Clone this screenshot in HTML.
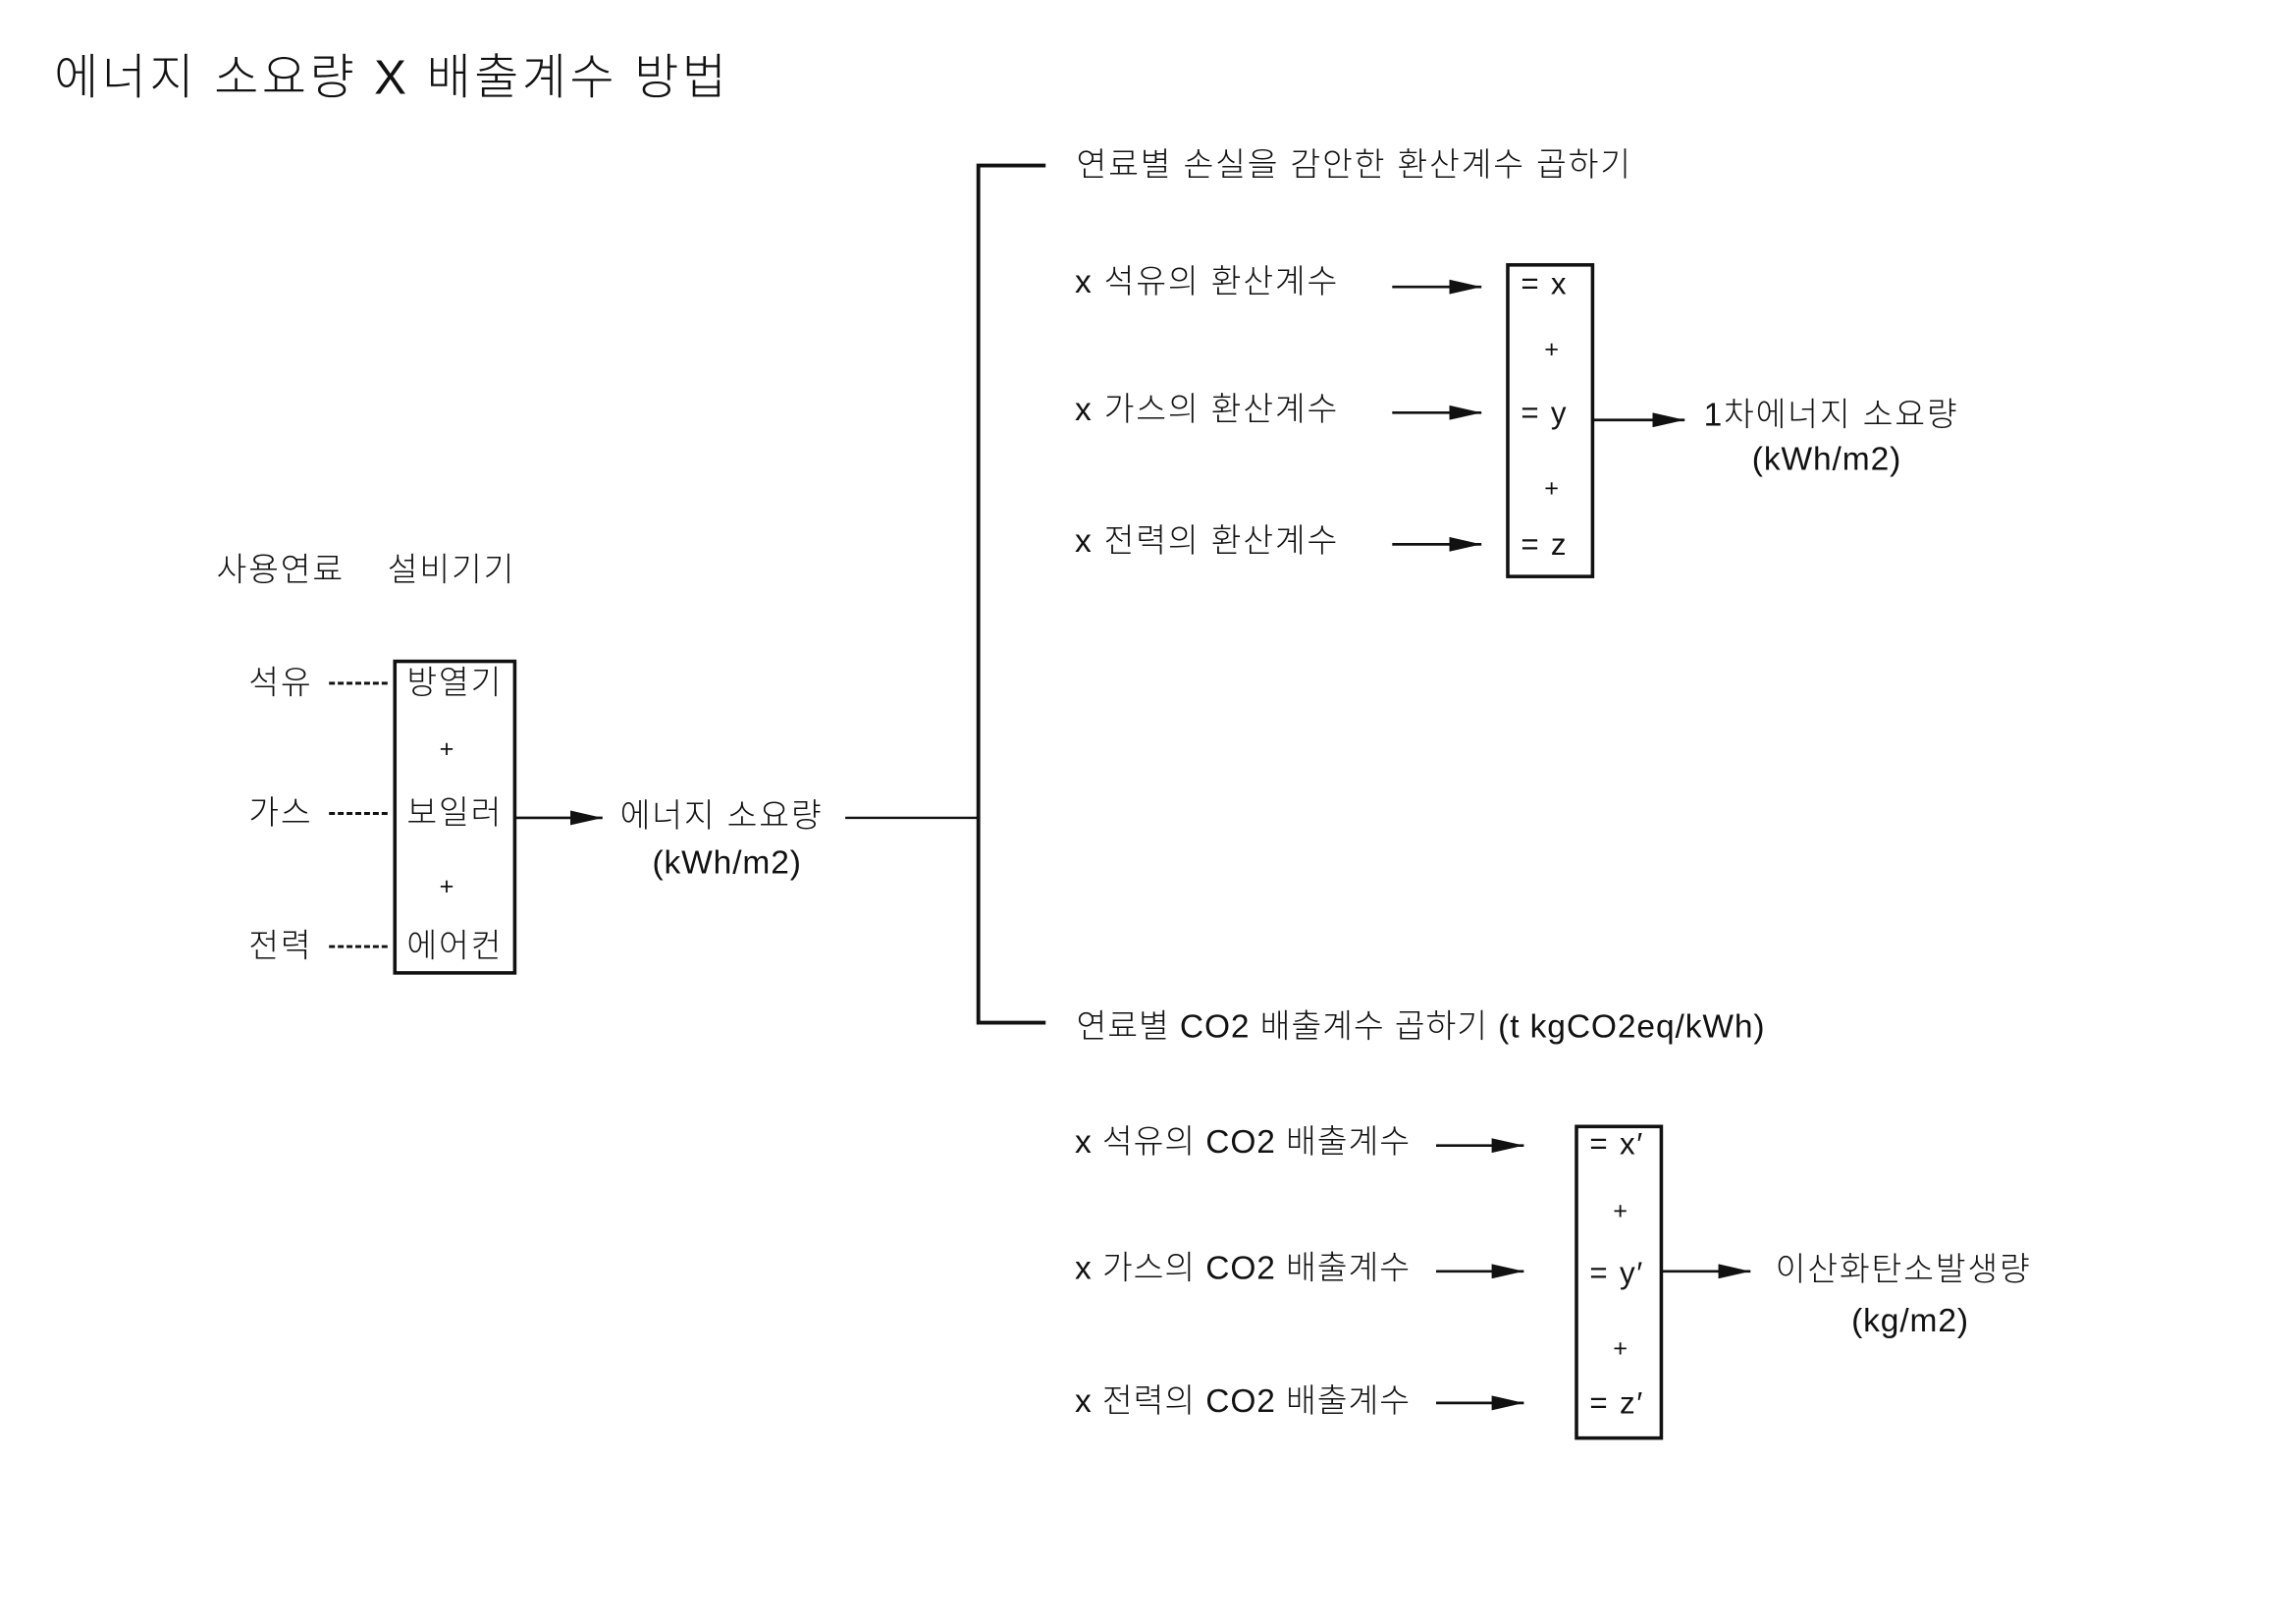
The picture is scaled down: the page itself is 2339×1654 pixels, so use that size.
<!DOCTYPE html>
<html><head><meta charset="utf-8"><style>
html,body{margin:0;padding:0;background:#fff;}
svg{display:block;}
text{font-family:"Liberation Sans","Noto Sans CJK KR","NanumGothic",sans-serif;fill:#111;dominant-baseline:central;font-weight:300;letter-spacing:1.2px;}
.t{letter-spacing:0.6px;}
</style></head><body>
<svg width="2339" height="1654" viewBox="0 0 1570 1110" xmlns="http://www.w3.org/2000/svg">
<defs>
<marker id="ah" markerWidth="22" markerHeight="10" refX="22" refY="5" orient="auto" markerUnits="userSpaceOnUse">
<path d="M0,0 L22,5 L0,10 Z" fill="#111"/>
</marker>
</defs>
<rect width="1570" height="1110" fill="#fff"/>
<text x="37" y="53" font-size="33" style="letter-spacing:2.3px">에너지 소요량 X 배출계수 방법</text>

<g font-size="22.5">
<text x="148" y="390">사용연료</text>
<text x="265" y="390">설비기기</text>
<text x="170" y="467">석유</text>
<text x="170" y="556">가스</text>
<text x="170" y="647">전력</text>
</g>
<g stroke="#111" stroke-width="2" stroke-dasharray="4,2">
<line x1="225" y1="467" x2="267" y2="467"/>
<line x1="225" y1="556" x2="267" y2="556"/>
<line x1="225" y1="647" x2="267" y2="647"/>
</g>
<rect x="270" y="452" width="82" height="213" fill="none" stroke="#111" stroke-width="2.4"/>
<g font-size="22.5" text-anchor="middle">
<text x="311" y="467">방열기</text>
<text x="306" y="512" font-size="17">+</text>
<text x="311" y="556">보일러</text>
<text x="306" y="606" font-size="17">+</text>
<text x="311" y="647">에어컨</text>
</g>
<line x1="352" y1="559" x2="412" y2="559" stroke="#111" stroke-width="1.8" marker-end="url(#ah)"/>
<text x="424" y="558" font-size="22.5">에너지 소요량</text>
<text x="446" y="590" font-size="22.5" class="t">(kWh/m2)</text>
<line x1="578" y1="559" x2="669" y2="559" stroke="#111" stroke-width="1.6"/>
<polyline points="715,113 669,113 669,699 715,699" fill="none" stroke="#111" stroke-width="2.6"/>

<g font-size="22.5">
<text x="736" y="113">연료별 손실을 감안한 환산계수 곱하기</text>
<text x="735" y="193">x 석유의 환산계수</text>
<text x="735" y="280">x 가스의 환산계수</text>
<text x="735" y="370">x 전력의 환산계수</text>
</g>
<g stroke="#111" stroke-width="1.8">
<line x1="952" y1="196" x2="1013" y2="196" marker-end="url(#ah)"/>
<line x1="952" y1="282" x2="1013" y2="282" marker-end="url(#ah)"/>
<line x1="952" y1="372" x2="1013" y2="372" marker-end="url(#ah)"/>
</g>
<rect x="1031" y="181" width="58" height="213" fill="none" stroke="#111" stroke-width="2.4"/>
<g font-size="21">
<text x="1040" y="194">= x</text>
<text x="1056" y="239" font-size="17">+</text>
<text x="1040" y="282">= y</text>
<text x="1056" y="334" font-size="17">+</text>
<text x="1040" y="372">= z</text>
</g>
<line x1="1089" y1="287" x2="1152" y2="287" stroke="#111" stroke-width="1.8" marker-end="url(#ah)"/>
<text x="1165" y="284" font-size="22.5">1차에너지 소요량</text>
<text x="1198" y="314" font-size="22.5" class="t">(kWh/m2)</text>

<g font-size="22.5">
<text x="736" y="702" class="t">연료별 CO2 배출계수 곱하기  (t kgCO2eq/kWh)</text>
<text x="735" y="781" class="t">x 석유의 CO2 배출계수</text>
<text x="735" y="867" class="t">x 가스의 CO2 배출계수</text>
<text x="735" y="958" class="t">x 전력의 CO2 배출계수</text>
</g>
<g stroke="#111" stroke-width="1.8">
<line x1="982" y1="783" x2="1042" y2="783" marker-end="url(#ah)"/>
<line x1="982" y1="869" x2="1042" y2="869" marker-end="url(#ah)"/>
<line x1="982" y1="959" x2="1042" y2="959" marker-end="url(#ah)"/>
</g>
<rect x="1078" y="770" width="58" height="213" fill="none" stroke="#111" stroke-width="2.4"/>
<g font-size="21">
<text x="1087" y="782">= x′</text>
<text x="1103" y="828" font-size="17">+</text>
<text x="1087" y="870">= y′</text>
<text x="1103" y="922" font-size="17">+</text>
<text x="1087" y="959">= z′</text>
</g>
<line x1="1136" y1="869" x2="1197" y2="869" stroke="#111" stroke-width="1.8" marker-end="url(#ah)"/>
<text x="1214" y="868" font-size="22.5">이산화탄소발생량</text>
<text x="1266" y="903" font-size="22.5" class="t">(kg/m2)</text>
</svg>
</body></html>
